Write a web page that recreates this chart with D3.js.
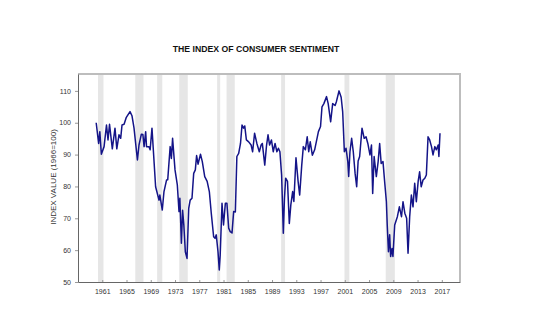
<!DOCTYPE html>
<html>
<head>
<meta charset="utf-8">
<script src="https://cdn.jsdelivr.net/npm/d3@7"></script>
<style>
    body { margin: 0; background: #fff; }
    svg { display: block; font-family: "Liberation Sans", Arial, sans-serif; }
</style>
</head>
<body>
<svg></svg>
<script>
//constants
const margin = {top: 74, right: 79, bottom: 45, left: 78};
const width = 539 - margin.left - margin.right;
const height = 327 - margin.top - margin.bottom;

//data (decimal years, index values)
const dates = [
    1960.0, 1960.4, 1960.6, 1960.85, 1961.3, 1961.7, 1961.95, 1962.2, 1962.66, 1963.1,
    1963.4, 1963.76, 1964.04, 1964.26, 1964.6, 1964.97, 1965.58, 1965.9, 1966.24, 1966.8,
    1967.06, 1967.45, 1967.7, 1967.9, 1968.16, 1968.3, 1968.7, 1968.9, 1969.2, 1969.8,
    1970.36, 1970.5, 1970.9, 1971.18, 1971.6, 1971.8, 1972.2, 1972.4, 1972.6, 1973.0,
    1973.38, 1973.66, 1973.8, 1974.05, 1974.25, 1974.45, 1974.7, 1974.98, 1975.26, 1975.5,
    1975.8, 1976.08, 1976.35, 1976.56, 1976.8, 1977.2, 1977.5, 1977.9, 1978.3, 1978.66,
    1978.98, 1979.37, 1979.6, 1979.8, 1980.09, 1980.3, 1980.45, 1980.75, 1981.0, 1981.3,
    1981.56, 1981.85, 1982.1, 1982.4, 1982.67, 1982.95, 1983.2, 1983.5, 1983.8, 1984.05,
    1984.3, 1984.5, 1984.77, 1985.15, 1985.55, 1985.8, 1986.12, 1986.5, 1986.9, 1987.2,
    1987.4, 1987.8, 1988.1, 1988.34, 1988.6, 1988.9, 1989.2, 1989.5, 1989.8, 1990.05,
    1990.3, 1990.58, 1990.76, 1990.86, 1991.05, 1991.25, 1991.55, 1991.85, 1992.1, 1992.4,
    1992.6, 1992.95, 1993.3, 1993.56, 1993.9, 1994.16, 1994.5, 1994.8, 1995.05, 1995.3,
    1995.65, 1996.03, 1996.65, 1997.0, 1997.24, 1997.55, 1997.99, 1998.26, 1998.67, 1999.0,
    1999.4, 1999.6, 2000.05, 2000.4, 2000.65, 2000.93, 2001.2, 2001.5, 2001.64, 2001.85,
    2002.13, 2002.4, 2002.7, 2002.96, 2003.2, 2003.45, 2003.84, 2004.2, 2004.5, 2004.8,
    2005.15, 2005.4, 2005.6, 2005.84, 2006.2, 2006.5, 2006.75, 2007.0, 2007.3, 2007.55,
    2007.86, 2008.0, 2008.2, 2008.4, 2008.56, 2008.78, 2008.94, 2009.23, 2009.67, 2010.0,
    2010.35, 2010.6, 2010.9, 2011.2, 2011.43, 2011.7, 2011.98, 2012.25, 2012.53, 2012.8,
    2013.1, 2013.34, 2013.6, 2013.9, 2014.2, 2014.45, 2014.73, 2015.0, 2015.3, 2015.55,
    2015.85, 2016.1, 2016.4, 2016.52, 2016.7
];
const sentiment = [
    100.0, 93.5, 97.2, 90.1, 92.5, 99.3, 94.6, 99.5, 91.8, 98.3,
    91.8, 96.2, 95.1, 99.3, 99.5, 101.7, 103.5, 102.2, 98.3, 88.3,
    93.0, 96.4, 96.3, 92.5, 97.2, 92.5, 92.5, 91.5, 98.3, 79.9,
    75.7, 77.3, 72.6, 78.4, 82.0, 82.1, 92.5, 88.8, 95.1, 85.2,
    80.5, 72.1, 76.3, 62.2, 72.5, 68.0, 59.5, 57.4, 73.1, 75.7,
    76.3, 84.1, 85.2, 89.7, 87.0, 90.1, 87.8, 83.1, 81.6, 78.4,
    71.6, 64.2, 63.7, 64.8, 59.5, 53.8, 58.4, 74.7, 67.9, 74.7,
    74.7, 66.9, 65.8, 65.4, 72.1, 72.0, 89.4, 90.4, 93.5, 99.3,
    98.3, 99.0, 94.6, 94.0, 93.0, 90.9, 96.7, 93.5, 90.9, 93.0,
    93.5, 86.7, 93.0, 96.2, 93.0, 94.6, 90.9, 93.5, 90.9, 92.0,
    90.9, 83.6, 72.1, 65.3, 76.3, 82.6, 81.6, 68.4, 74.2, 78.4,
    75.3, 89.0, 81.6, 77.3, 86.7, 92.5, 91.5, 95.6, 90.9, 94.0,
    89.8, 91.5, 97.2, 98.8, 105.0, 106.0, 108.2, 106.0, 100.3, 106.0,
    105.4, 106.5, 110.0, 108.0, 103.5, 90.9, 92.0, 87.8, 83.1, 90.9,
    95.1, 90.9, 84.1, 79.9, 88.0, 89.4, 98.3, 95.1, 95.6, 93.5,
    89.9, 93.0, 77.8, 89.4, 83.1, 87.8, 93.5, 87.2, 87.8, 82.0,
    75.2, 67.9, 59.5, 64.8, 58.0, 60.5, 58.0, 67.9, 70.5, 73.6,
    70.5, 75.2, 71.6, 70.0, 59.0, 70.5, 77.3, 73.6, 81.0, 75.2,
    81.6, 84.6, 79.9, 82.0, 82.6, 83.6, 95.6, 94.6, 92.5, 89.9,
    92.5, 91.5, 93.0, 89.4, 96.7
];

//recessions (shaded bands)
const recStart = [1960.3, 1966.45, 1970.05, 1973.7, 1979.95, 1981.5, 1990.5, 2000.95, 2007.75];
const recEnd = [1961.2, 1967.8, 1970.9, 1975.1, 1980.45, 1982.85, 1991.15, 2001.75, 2009.25];

//ticks
const yearTicks = [1961, 1965, 1969, 1973, 1977, 1981, 1985, 1989, 1993, 1997, 2001, 2005, 2009, 2013, 2017];
const valueTicks = [50, 60, 70, 80, 90, 100, 110];

//main
function main() {

    let data = dates.map((d, i) => ({x: d, y: sentiment[i]}));

    //scales
    let xScale = d3.scaleLinear()
        .domain([1957, 2020])
        .range([0, width]);

    let yScale = d3.scaleLinear()
        .domain([50, 115.3])
        .range([height, 0]);

    let xAxis = d3.axisBottom(xScale)
        .tickValues(yearTicks)
        .tickFormat(d3.format("d"))
        .tickSizeInner(-2)
        .tickSizeOuter(0)
        .tickPadding(7);

    let yAxis = d3.axisLeft(yScale)
        .tickValues(valueTicks)
        .tickSizeInner(3)
        .tickSizeOuter(0)
        .tickPadding(4);

    //canvas
    let svg = d3.select("svg")
        .attr("width", width + margin.left + margin.right)
        .attr("height", height + margin.top + margin.bottom)
        .style("background-color", "#ffffff")
        .append("g")
        .attr("transform", "translate(" + margin.left + "," + margin.top + ")");

    //title
    svg.append("text")
        .attr("x", 178)
        .attr("y", -22)
        .style("text-anchor", "middle")
        .style("font-size", "8.7px")
        .style("font-weight", "bold")
        .style("fill", "#111")
        .text("THE INDEX OF CONSUMER SENTIMENT");

    //recession bands
    svg.selectAll(".rec")
        .data(recStart)
        .enter()
        .append("rect")
        .attr("class", "rec")
        .attr("x", d => xScale(d))
        .attr("y", 0)
        .attr("width", (d, i) => xScale(recEnd[i]) - xScale(d))
        .attr("height", height)
        .attr("fill", "#e6e6e6");

    //top and right frame
    svg.append("path")
        .attr("d", "M0,0H" + width + "V" + height)
        .attr("fill", "none")
        .attr("stroke", "#bdbdbd")
        .attr("stroke-width", 2);

    //line
    svg.append("path")
        .datum(data)
        .attr("fill", "none")
        .attr("stroke", "#141488")
        .attr("stroke-width", 1.5)
        .attr("stroke-linejoin", "round")
        .attr("d", d3.line()
            .x(function(d) { return xScale(d.x); })
            .y(function(d) { return yScale(d.y); })
        );

    //axes
    let gx = svg.append("g")
        .attr("transform", "translate(0," + height + ")")
        .call(xAxis);

    let gy = svg.append("g")
        .call(yAxis);

    [gx, gy].forEach(function(g) {
        g.select(".domain").attr("stroke", "#666");
        g.selectAll(".tick line").attr("stroke", "#999");
        g.selectAll(".tick text")
            .style("font-size", "7px")
            .style("font-family", "'Liberation Sans', Arial, sans-serif")
            .style("fill", "#333");
    });

    //axes labels
    svg.append("text")
        .attr("transform", "rotate(-90)")
        .attr("y", -22)
        .attr("x", -(height / 2) + 1)
        .style("text-anchor", "middle")
        .style("font-size", "8px")
        .style("fill", "#333")
        .text("INDEX VALUE (1966=100)");
}

main();
</script>
</body>
</html>
